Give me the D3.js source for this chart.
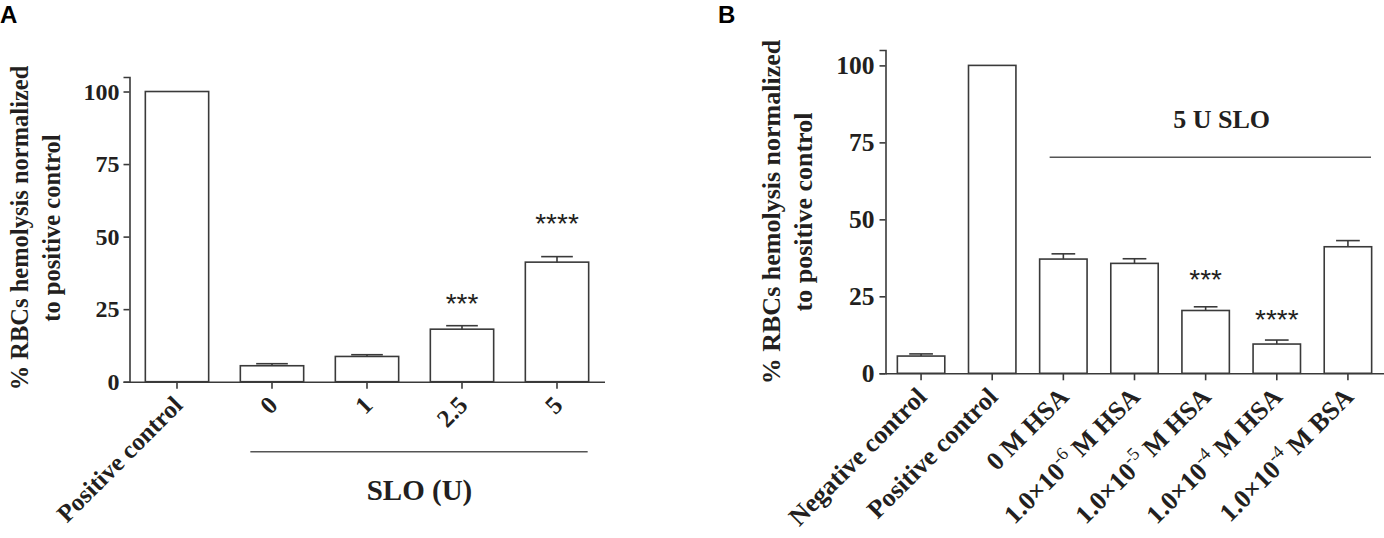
<!DOCTYPE html>
<html><head><meta charset="utf-8">
<script src="https://cdn.jsdelivr.net/npm/d3@7"></script>
<style>
html,body{margin:0;padding:0;background:#fff;}
svg{display:block;}
</style></head>
<body>
<svg id="chart" width="1384" height="538"></svg>
<script>
// ---------- DATA ----------
const catsA = ["Positive control", "0", "1", "2.5", "5"];
const valsA = [100, 5.5, 8.7, 18.1, 41.2];
const errA  = [0, 0.7, 0.6, 1.2, 1.9];
const sigA  = ["", "", "", "***", "****"];
const sigPosA = [0, 0, 0, 29.3, 56.8];

const catsB = ["Negative control", "Positive control", "0 M HSA", "1.0×10^-6 M HSA", "1.0×10^-5 M HSA", "1.0×10^-4 M HSA", "1.0×10^-4 M BSA"];
const valsB = [5.6, 100, 37.1, 35.7, 20.4, 9.5, 41.1];
const errB  = [0.7, 0, 1.7, 1.5, 1.2, 1.3, 2.0];
const sigB  = ["", "", "", "", "***", "****", ""];
const sigPosB = [0, 0, 0, 0, 32.5, 19.5, 0];

const yTicks = [0, 25, 50, 75, 100];
const yLabel = ["% RBCs hemolysis normalized", "to positive control"];

// ---------- STYLE ----------
const serif = "'Times New Roman','Liberation Serif',serif";
const sans = "Arial,'Liberation Sans',sans-serif";
const ink = "#231f20";
const lineCol = "#3a3a3a";

const svg = d3.select("#chart");

function panel(cfg) {
  const g = svg.append("g");
  const x = d3.scaleBand().domain(cfg.cats).range([cfg.x0, cfg.x1]).paddingInner(1/3).paddingOuter(1/6);
  const y = d3.scaleLinear().domain([0, 105]).range([cfg.yBottom, cfg.yTop]);
  const fs = cfg.fs;

  // bars
  g.selectAll("rect.bar").data(cfg.cats).join("rect")
    .attr("x", d => x(d)).attr("width", x.bandwidth())
    .attr("y", (d, i) => y(cfg.vals[i]))
    .attr("height", (d, i) => y(0) - y(cfg.vals[i]))
    .attr("fill", "#fff").attr("stroke", lineCol).attr("stroke-width", 1.6);

  // error bars
  const eb = cfg.cats.map((c, i) => ({c, v: cfg.vals[i], e: cfg.errs[i]})).filter(d => d.e > 0);
  g.selectAll("line.ev").data(eb).join("line")
    .attr("x1", d => x(d.c) + x.bandwidth()/2).attr("x2", d => x(d.c) + x.bandwidth()/2)
    .attr("y1", d => y(d.v)).attr("y2", d => y(d.v + d.e))
    .attr("stroke", lineCol).attr("stroke-width", 1.6);
  g.selectAll("line.ec").data(eb).join("line")
    .attr("x1", d => x(d.c) + x.bandwidth()/4).attr("x2", d => x(d.c) + x.bandwidth()*3/4)
    .attr("y1", d => y(d.v + d.e)).attr("y2", d => y(d.v + d.e))
    .attr("stroke", lineCol).attr("stroke-width", 1.6);

  // significance stars
  cfg.cats.forEach((c, i) => {
    if (!cfg.sig[i]) return;
    g.append("text").attr("x", x(c) + x.bandwidth()/2).attr("y", y(cfg.sigPos[i]) + cfg.starFs*0.58)
      .attr("text-anchor", "middle").attr("font-family", sans).attr("font-size", cfg.starFs)
      .attr("fill", ink).text(cfg.sig[i]);
  });

  // y axis
  const ya = g.append("g").attr("transform", `translate(${cfg.x0},0)`)
    .call(d3.axisLeft(y).tickValues(yTicks).tickSize(6).tickPadding(cfg.tickPad));
  ya.select(".domain").attr("stroke", lineCol).attr("stroke-width", 1.6);
  ya.selectAll(".tick line").attr("stroke", lineCol).attr("stroke-width", 1.6);
  ya.selectAll(".tick text").attr("font-family", serif).attr("font-weight", "bold")
    .attr("font-size", fs).attr("fill", ink);

  // x axis
  const xa = g.append("g").attr("transform", `translate(0,${cfg.yBottom})`)
    .call(d3.axisBottom(x).tickSize(7).tickSizeOuter(0).tickFormat(""));
  xa.select(".domain").attr("stroke", lineCol).attr("stroke-width", 1.6);
  xa.selectAll(".tick line").attr("stroke", lineCol).attr("stroke-width", 1.6);

  // rotated category labels
  const cfs = cfg.catFs;
  cfg.cats.forEach(c => {
    const cx = x(c) + x.bandwidth()/2;
    const t = g.append("text")
      .attr("transform", `translate(${cx + cfg.lblDx},${cfg.yBottom + cfg.lblDy}) rotate(-45)`)
      .attr("text-anchor", "end").attr("font-family", serif).attr("font-weight", "bold")
      .attr("font-size", cfs).attr("fill", ink);
    const parts = c.split(/\^(\S+)/);
    parts.forEach((p, k) => {
      if (k % 2 === 1) {
        t.append("tspan").attr("dy", -cfs*0.42).attr("font-size", cfs*0.7).attr("font-weight", "normal").text(p);
      } else if (k > 0) {
        t.append("tspan").attr("dy", cfs*0.42).text(p);
      } else {
        t.append("tspan").text(p);
      }
    });
  });

  // y label
  yLabel.forEach((l, k) => {
    g.append("text").attr("transform", `translate(${cfg.ylx[k]},${cfg.yly}) rotate(-90)`)
      .attr("text-anchor", "middle").attr("font-family", serif).attr("font-weight", "bold")
      .attr("font-size", cfg.ylFs).attr("fill", ink).text(l);
  });

  // panel letter
  g.append("text").attr("x", cfg.letterX).attr("y", 23).attr("font-family", sans)
    .attr("font-weight", "bold").attr("font-size", 24).attr("fill", "#000").text(cfg.letter);

  return {g, x, y};
}

const A = panel({
  cats: catsA, vals: valsA, errs: errA, sig: sigA, sigPos: sigPosA,
  x0: 129.5, x1: 604.5, yBottom: 381.7, yTop: 77, fs: 24, catFs: 25, starFs: 28, tickPad: 4,
  lblDx: 7, lblDy: 25, ylx: [28, 60], yly: 228, ylFs: 24.5, letter: "A", letterX: 0
});
// SLO bracket A
A.g.append("line").attr("x1", A.x("0") + 10).attr("x2", A.x("5") + A.x.bandwidth() - 1)
  .attr("y1", 451.7).attr("y2", 451.7).attr("stroke", "#555").attr("stroke-width", 1.6);
A.g.append("text").attr("x", (A.x("0") + 10 + A.x("5") + A.x.bandwidth()) / 2).attr("y", 500)
  .attr("text-anchor", "middle").attr("font-family", serif).attr("font-weight", "bold")
  .attr("font-size", 29).attr("fill", ink).text("SLO (U)");

const B = panel({
  cats: catsB, vals: valsB, errs: errB, sig: sigB, sigPos: sigPosB,
  x0: 885.5, x1: 1383.5, yBottom: 373.3, yTop: 50, fs: 25.5, catFs: 26, starFs: 28, tickPad: 5,
  lblDx: 7, lblDy: 25, ylx: [780, 812], yly: 212, ylFs: 26, letter: "B", letterX: 718
});
// 5 U SLO bracket B
B.g.append("line").attr("x1", B.x("0 M HSA") + 10).attr("x2", 1371)
  .attr("y1", 157.3).attr("y2", 157.3).attr("stroke", "#555").attr("stroke-width", 1.6);
B.g.append("text").attr("x", 1221.7).attr("y", 127.7)
  .attr("text-anchor", "middle").attr("font-family", serif).attr("font-weight", "bold")
  .attr("font-size", 26).attr("fill", ink).text("5 U SLO");
</script>
</body></html>
